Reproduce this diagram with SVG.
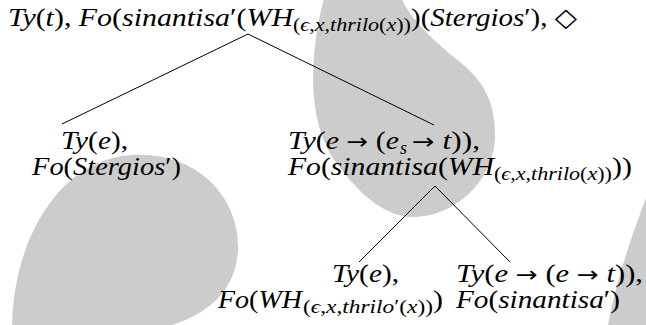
<svg xmlns="http://www.w3.org/2000/svg" width="646" height="325" viewBox="0 0 646 325">
<style>
.bg{fill:#cccccc;stroke:none}
.m{font-family:"Liberation Serif","DejaVu Serif",serif;font-size:25.5px;font-style:italic;fill:#000}
.s{font-size:18px}
.u{font-style:normal}
.a{font-family:"DejaVu Sans",sans-serif;font-style:normal;font-size:22px}
.e{stroke:#000;stroke-width:1;fill:none}
</style>
<rect width="646" height="325" fill="#fff"/>
<g id="shapes">
<path class="bg" d="M 325,-5 C 312,40 302,120 338,165 C 362,198 388,217 413,217 C 455,217 495,180 495,135 C 495,100 482,80 460,62 C 427,36 408,15 400,-5 Z"/>
<path class="bg" d="M 12,330 C 12,240 60,158 133,155 C 200,152 240,200 238,250 C 236,295 200,322 150,330 Z"/>
<path class="bg" d="M 646,198 C 632,235 616,280 607,330 L 650,330 L 650,198 Z"/>
</g>
<g id="connectors">
<line class="e" x1="248" y1="34" x2="62" y2="124"/>
<line class="e" x1="248" y1="34" x2="434" y2="125"/>
<line class="e" x1="435" y1="186" x2="359" y2="262"/>
<line class="e" x1="435" y1="186" x2="510" y2="262"/>
</g>
<g id="n-root">
<text class="m" x="8" y="26" textLength="285" lengthAdjust="spacingAndGlyphs">Ty<tspan class="u">(</tspan>t<tspan class="u">), </tspan>Fo<tspan class="u">(</tspan>sinantisa<tspan class="u">′(</tspan>WH</text>
<text class="m s" x="293" y="31" textLength="118" lengthAdjust="spacingAndGlyphs"><tspan class="u">(</tspan>ϵ<tspan class="u">,</tspan>x<tspan class="u">,</tspan>thrilo<tspan class="u">(</tspan>x<tspan class="u">))</tspan></text>
<text class="m" x="411" y="26" textLength="166" lengthAdjust="spacingAndGlyphs"><tspan class="u">)(</tspan>Stergios<tspan class="u">′), ◇</tspan></text>
</g>
<g id="n-left">
<text class="m" x="61" y="149" textLength="67" lengthAdjust="spacingAndGlyphs">Ty<tspan class="u">(</tspan>e<tspan class="u">),</tspan></text>
<text class="m" x="32" y="175" textLength="149" lengthAdjust="spacingAndGlyphs">Fo<tspan class="u">(</tspan>Stergios<tspan class="u">′)</tspan></text>
</g>
<g id="n-right">
<text class="m" x="288" y="149" textLength="111" lengthAdjust="spacingAndGlyphs">Ty<tspan class="u">(</tspan>e<tspan class="u"> </tspan><tspan class="a">→</tspan><tspan class="u"> (</tspan>e</text>
<text class="m s" x="400" y="154">s</text>
<text class="m" x="412" y="149" textLength="68" lengthAdjust="spacingAndGlyphs"><tspan class="a">→</tspan><tspan class="u"> </tspan>t<tspan class="u">)),</tspan></text>
<text class="m" x="288" y="175" textLength="206" lengthAdjust="spacingAndGlyphs">Fo<tspan class="u">(</tspan>sinantisa<tspan class="u">(</tspan>WH</text>
<text class="m s" x="494" y="180" textLength="118" lengthAdjust="spacingAndGlyphs"><tspan class="u">(</tspan>ϵ<tspan class="u">,</tspan>x<tspan class="u">,</tspan>thrilo<tspan class="u">(</tspan>x<tspan class="u">))</tspan></text>
<text class="m u" x="612" y="175" textLength="20" lengthAdjust="spacingAndGlyphs">))</text>
</g>
<g id="n-wh">
<text class="m" x="332" y="282" textLength="67" lengthAdjust="spacingAndGlyphs">Ty<tspan class="u">(</tspan>e<tspan class="u">),</tspan></text>
<text class="m" x="218" y="308" textLength="84" lengthAdjust="spacingAndGlyphs">Fo<tspan class="u">(</tspan>WH</text>
<text class="m s" x="303" y="313" textLength="130" lengthAdjust="spacingAndGlyphs"><tspan class="u">(</tspan>ϵ<tspan class="u">,</tspan>x<tspan class="u">,</tspan>thrilo<tspan class="u">′(</tspan>x<tspan class="u">))</tspan></text>
<text class="m u" x="433" y="308" textLength="10" lengthAdjust="spacingAndGlyphs">)</text>
</g>
<g id="n-sinantisa">
<text class="m" x="456" y="282" textLength="187" lengthAdjust="spacingAndGlyphs">Ty<tspan class="u">(</tspan>e<tspan class="u"> </tspan><tspan class="a">→</tspan><tspan class="u"> (</tspan>e<tspan class="u"> </tspan><tspan class="a">→</tspan><tspan class="u"> </tspan>t<tspan class="u">)),</tspan></text>
<text class="m" x="456" y="308" textLength="164" lengthAdjust="spacingAndGlyphs">Fo<tspan class="u">(</tspan>sinantisa<tspan class="u">′)</tspan></text>
</g>
</svg>
